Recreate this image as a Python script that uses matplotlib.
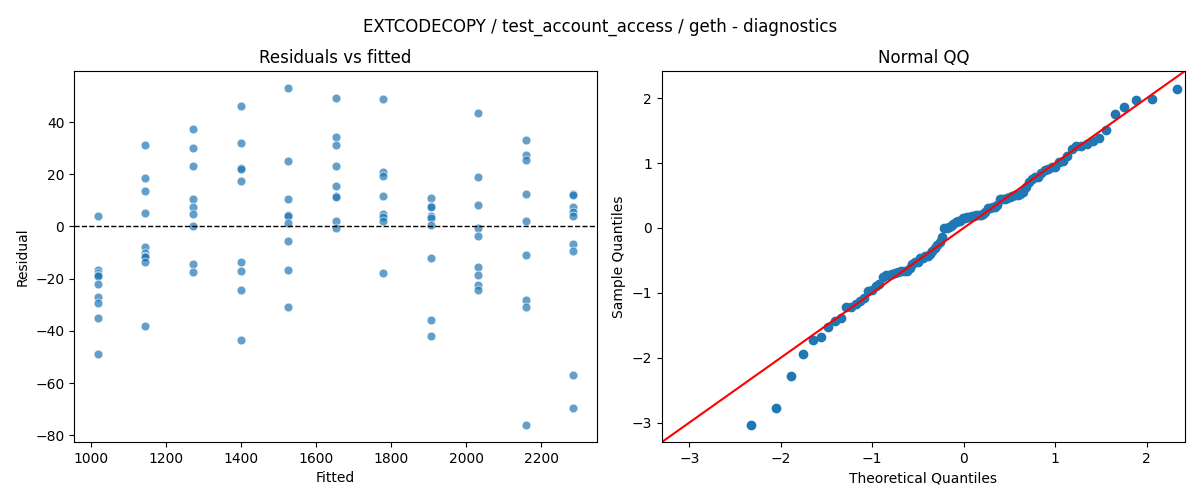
import numpy as np
import matplotlib
matplotlib.use("Agg")
import matplotlib.pyplot as plt
from statistics import NormalDist

# fitted value of each group
fitted_levels = [1018, 1145, 1272, 1399, 1526, 1652, 1779, 1906, 2032, 2159, 2286]
# residuals per group
res_1018 = [4.1, -16.8, -17.8, -18.5, -19.0, -21.9, -27.2, -29.5, -34.9, -48.9]
res_1145 = [31.3, 18.6, 13.7, 5.0, -8.0, -10.2, -11.2, -11.7, -13.5, -38.2]
res_1272 = [37.3, 30.0, 23.2, 10.7, 7.5, 4.8, 0.0, -14.2, -17.3]
res_1399 = [46.2, 31.9, 22.4, 21.9, 17.4, -13.5, -16.9, -24.2, -43.5]
res_1526 = [53.1, 25.1, 10.7, 4.5, 4.1, 1.4, -5.7, -16.8, -30.7]
res_1652 = [49.2, 34.2, 31.3, 23.2, 15.6, 11.6, 11.3, 2.2, -0.5]
res_1779 = [48.7, 20.7, 19.3, 11.8, 4.6, 3.6, 2.0, -17.7]
res_1906 = [10.9, 7.8, 7.3, 4.2, 3.4, 0.6, -12.0, -35.9, -42.1]
res_2032 = [43.4, 19.1, 8.4, -0.5, -3.6, -15.6, -18.4, -22.5, -24.4]
res_2159 = [33.2, 27.4, 25.4, 12.5, 2.2, -11.1, -28.2, -30.7, -76.1]
res_2286 = [12.6, 12.2, 7.6, 5.7, 4.2, -6.9, -9.3, -57.0, -69.6]

groups = [res_1018, res_1145, res_1272, res_1399, res_1526, res_1652,
          res_1779, res_1906, res_2032, res_2159, res_2286]

fitted = np.concatenate([[f] * len(g) for f, g in zip(fitted_levels, groups)])
resid = np.concatenate([np.array(g, dtype=float) for g in groups])

fig, (ax1, ax2) = plt.subplots(1, 2, figsize=(12, 5), dpi=100)
fig.subplots_adjust(left=0.0617, right=0.9875, top=0.858, bottom=0.116, wspace=0.124)
fig.suptitle("EXTCODECOPY / test_account_access / geth - diagnostics", fontsize=12, y=0.965)

ax1.scatter(fitted, resid, s=40, color="#1f77b4", alpha=0.7, edgecolors="white", linewidths=0.6)
ax1.axhline(0, color="black", linestyle="--", linewidth=1)
ax1.set_title("Residuals vs fitted")
ax1.set_xlabel("Fitted")
ax1.set_ylabel("Residual")

# Normal QQ
n = len(resid)
z = np.sort((resid - resid.mean()) / resid.std())
nd = NormalDist()
theo = np.array([nd.inv_cdf(i / (n + 1)) for i in range(1, n + 1)])
ax2.plot(theo, z, "o", color="#1f77b4", markersize=6)
lims = [-3.30, 2.42]
ax2.plot(lims, lims, color="red", linewidth=1.5)
ax2.set_xlim(lims)
ax2.set_ylim(lims)
ax2.set_title("Normal QQ")
ax2.set_xlabel("Theoretical Quantiles")
ax2.set_ylabel("Sample Quantiles")

fig.savefig("out.png", dpi=100)
